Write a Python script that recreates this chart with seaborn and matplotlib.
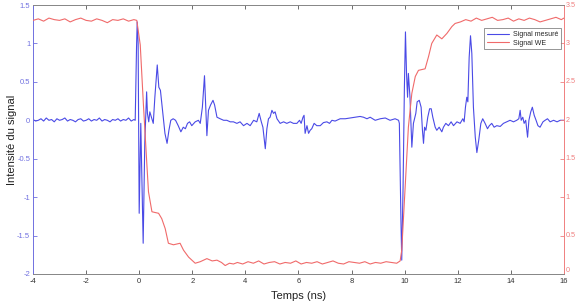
import matplotlib
matplotlib.use("Agg")
import matplotlib.pyplot as plt
import seaborn as sns
from matplotlib.ticker import FuncFormatter, FixedLocator
from matplotlib.lines import Line2D

# ---------------- data ----------------
blue_t = [-4.0, -3.9, -3.8, -3.7, -3.6, -3.5, -3.4, -3.3, -3.2, -3.1, -3.0, -2.9, -2.8, -2.7,
          -2.6, -2.5, -2.4, -2.3, -2.2, -2.1, -2.0, -1.9, -1.8, -1.7, -1.6, -1.5, -1.4, -1.3,
          -1.2, -1.1, -1.0, -0.9, -0.8, -0.7, -0.6, -0.5, -0.4, -0.3, -0.2, -0.15,
          -0.10, -0.075, -0.04, 0.0, 0.06, 0.10, 0.15, 0.21, 0.28, 0.31, 0.36, 0.40, 0.46, 0.53,
          0.59, 0.68, 0.74, 0.80, 0.88, 0.97, 1.05, 1.12, 1.19, 1.28, 1.37, 1.47, 1.57, 1.66,
          1.74, 1.82, 1.90, 1.98, 2.11, 2.23, 2.30, 2.38, 2.46, 2.51, 2.55, 2.61, 2.69, 2.78,
          2.84, 2.93, 3.05, 3.18, 3.30, 3.43, 3.55, 3.68, 3.80, 3.93, 4.06, 4.18, 4.31, 4.43,
          4.52, 4.60, 4.66, 4.75, 4.81, 4.87, 4.93, 5.00, 5.06, 5.12, 5.19, 5.31, 5.44, 5.56,
          5.69, 5.81, 5.94, 6.04, 6.10, 6.17, 6.21, 6.25, 6.32, 6.38, 6.44, 6.50, 6.59, 6.69,
          6.82, 6.94, 7.07, 7.17, 7.26, 7.38, 7.57, 7.76, 7.95, 8.14, 8.32, 8.45, 8.58, 8.70,
          8.89, 9.08, 9.27, 9.45, 9.64, 9.77, 9.80, 9.86, 9.89, 9.94, 9.99, 10.03, 10.07, 10.11,
          10.14, 10.20, 10.27, 10.33, 10.42, 10.47, 10.55, 10.62, 10.67, 10.71, 10.75, 10.80,
          10.87, 10.94, 11.00, 11.06, 11.15, 11.21, 11.30, 11.40, 11.46, 11.55, 11.65, 11.75,
          11.84, 11.97, 12.09, 12.19, 12.24, 12.29, 12.34, 12.38, 12.43, 12.48, 12.53, 12.59,
          12.66, 12.72, 12.79, 12.87, 12.94, 13.03, 13.12, 13.19, 13.28, 13.37, 13.47, 13.60,
          13.72, 13.85, 13.97, 14.10, 14.22, 14.30, 14.35, 14.39, 14.45, 14.50, 14.56, 14.63,
          14.68, 14.75, 14.81, 14.88, 14.95, 15.02, 15.10, 15.21, 15.29, 15.38, 15.48, 15.61,
          15.74, 15.86, 16.0]
blue_v = [0.01, -0.01, 0.00, 0.02, -0.01, 0.03, 0.00, 0.01, -0.02, 0.02, 0.00, 0.01, 0.03, -0.01,
          0.01, 0.00, -0.02, 0.01, 0.02, -0.01, 0.00, 0.02, -0.01, 0.01, 0.00, 0.03, -0.01, 0.01,
          0.00, -0.02, 0.01, 0.00, 0.02, -0.01, 0.01, 0.00, 0.03, -0.01, 0.01, 0.00,
          0.95, 1.28, 1.00, -1.21, -0.04, -0.74, -1.60, -0.30, 0.37, 0.09, -0.02, 0.11, 0.04, -0.04,
          0.30, 0.72, 0.43, 0.39, 0.13, -0.17, -0.30, -0.13, 0.00, 0.02, 0.00, -0.07, -0.15, -0.09,
          -0.11, -0.04, -0.02, -0.07, -0.02, 0.00, -0.04, 0.17, 0.58, 0.13, -0.20, 0.13, 0.20, 0.26,
          0.20, 0.04, 0.02, 0.00, 0.00, -0.02, -0.02, -0.04, -0.02, -0.07, -0.04, -0.07, 0.00, -0.02,
          0.09, -0.02, -0.09, -0.37, -0.11, 0.02, 0.04, 0.13, 0.09, 0.11, 0.02, -0.04, -0.02, -0.04,
          -0.02, -0.04, -0.04, 0.00, -0.04, 0.04, 0.065, -0.17, -0.07, -0.17, -0.13, -0.11, -0.04, -0.07,
          -0.07, -0.03, -0.02, -0.04, 0.00, -0.01, 0.02, 0.02, 0.03, 0.04, 0.05, 0.04, 0.02, 0.04,
          0.00, 0.02, 0.03, 0.00, 0.02, 0.00, -0.04, -1.30, -1.82, -0.87, 0.43, 1.15, 0.61, 0.30,
          0.61, 0.30, -0.35, -0.04, 0.09, 0.24, 0.26, 0.17, -0.13, -0.30, -0.09, -0.13,
          0.04, 0.15, 0.15, 0.04, -0.09, -0.13, -0.09, -0.15, -0.09, -0.04, -0.07, -0.02,
          -0.07, -0.02, -0.04, 0.02, -0.02, 0.17, 0.30, 0.24, 0.82, 1.10, 0.87, 0.17,
          -0.22, -0.42, -0.26, -0.04, 0.02, -0.04, -0.11, -0.07, -0.04, -0.09, -0.07, -0.08,
          -0.04, -0.02, 0.00, -0.02, 0.00, 0.02, 0.13, 0.00, 0.04, -0.04, 0.00, -0.22,
          0.00, 0.11, 0.17, 0.065, 0.00, -0.07, -0.09, -0.02, 0.00, 0.02, -0.02, 0.00,
          -0.02, 0.00, 0.00]

red_t = [-4.0, -3.8, -3.6, -3.4, -3.2, -3.0, -2.8, -2.6, -2.4, -2.2, -2.0, -1.8, -1.6, -1.4,
         -1.2, -1.0, -0.8, -0.6, -0.4, -0.2, -0.09, 0.04, 0.16, 0.29, 0.35, 0.48, 0.60, 0.73,
         0.85, 0.98, 1.10, 1.29, 1.54, 1.67, 1.86, 2.11, 2.30, 2.55, 2.75, 2.93, 3.10, 3.24,
         3.40, 3.55, 3.7, 3.9, 4.1, 4.3, 4.5, 4.7, 4.9, 5.1, 5.3, 5.5, 5.7, 5.9, 6.1, 6.3, 6.5,
         6.7, 6.9, 7.1, 7.3, 7.5, 7.7, 7.9, 8.1, 8.3, 8.5, 8.7, 8.9, 9.1, 9.3, 9.5, 9.7, 9.83,
         9.89, 10.02, 10.14, 10.27, 10.40, 10.52, 10.77, 10.90, 11.02, 11.21, 11.40, 11.59,
         11.78, 11.90, 12.1, 12.3, 12.5, 12.7, 12.9, 13.1, 13.3, 13.5, 13.7, 13.9, 14.1, 14.3,
         14.5, 14.7, 14.9, 15.1, 15.3, 15.5, 15.7, 15.9, 16.0]
red_v = [3.30, 3.32, 3.29, 3.33, 3.31, 3.30, 3.32, 3.28, 3.31, 3.33, 3.30, 3.29, 3.32, 3.30,
         3.27, 3.31, 3.30, 3.32, 3.29, 3.31, 3.30, 2.98, 2.20, 1.42, 1.07, 0.81, 0.80, 0.79,
         0.72, 0.59, 0.40, 0.38, 0.40, 0.31, 0.22, 0.14, 0.16, 0.20, 0.17, 0.18, 0.15, 0.11,
         0.14, 0.13, 0.15, 0.13, 0.16, 0.14, 0.17, 0.13, 0.15, 0.16, 0.13, 0.15, 0.14, 0.17, 0.13,
         0.15, 0.14, 0.16, 0.13, 0.15, 0.17, 0.14, 0.13, 0.16, 0.15, 0.14, 0.16, 0.13, 0.15, 0.14,
         0.16, 0.15, 0.14, 0.17, 0.31, 1.14, 1.91, 2.35, 2.57, 2.65, 2.67, 2.83, 3.00, 3.11, 3.06,
         3.13, 3.22, 3.26, 3.28, 3.31, 3.29, 3.33, 3.30, 3.32, 3.34, 3.30, 3.31, 3.33, 3.29, 3.32,
         3.30, 3.33, 3.31, 3.28, 3.30, 3.32, 3.34, 3.31, 3.33]

x_ticks = [-4, -2, 0, 2, 4, 6, 8, 10, 12, 14, 16]
left_ticks = [-2, -1.5, -1, -0.5, 0, 0.5, 1, 1.5]
right_ticks = [0, 0.5, 1, 1.5, 2, 2.5, 3, 3.5]
series_labels = ["Signal mesuré", "Signal WE"]
x_label = "Temps (ns)"
y_label = "Intensité du signal"

# ---------------- style ----------------
BLUE = "#4a4ae6"
RED = "#f06a6a"
AXBLUE = "#7070e0"
AXRED = "#f08080"
GREY = "#555555"

sns.set_style("white")
plt.rcParams['font.family'] = ['Liberation Sans', 'DejaVu Sans']

fmt = FuncFormatter(lambda v, p: ("%g" % v))

fig = plt.figure(figsize=(5.79, 3.06), dpi=100)
ax = fig.add_axes([0.057, 0.1046, 0.917, 0.879])
sns.lineplot(x=blue_t, y=blue_v, ax=ax, color=BLUE, lw=0.8, estimator=None, sort=False)
ax.set_xlim(-4, 16)
ax.set_ylim(-2, 1.5)
ax.xaxis.set_major_locator(FixedLocator(x_ticks))
ax.yaxis.set_major_locator(FixedLocator(left_ticks))
ax.xaxis.set_major_formatter(fmt)
ax.yaxis.set_major_formatter(fmt)
ax.tick_params(axis='x', direction='in', top=True, bottom=True, length=3, width=0.6,
               color=GREY, labelsize=5.5, labelcolor="#333333", pad=3)
ax.tick_params(axis='y', direction='in', left=True, right=False, length=3, width=0.6,
               color=AXBLUE, labelsize=5.5, labelcolor=AXBLUE, pad=2)
ax.set_xlabel(x_label, fontsize=8, color="#222222")
ax.set_ylabel(y_label, fontsize=8, color="#222222")
ax.xaxis.set_label_coords(0.5, -0.065)
ax.yaxis.set_label_coords(-0.03, 0.5)

ax2 = ax.twinx()
sns.lineplot(x=red_t, y=red_v, ax=ax2, color=RED, lw=0.8, estimator=None, sort=False)
ax2.set_ylim(0, 3.5)
ax2.yaxis.set_major_locator(FixedLocator(right_ticks))
ax2.yaxis.set_major_formatter(fmt)
ax2.tick_params(axis='y', direction='in', right=True, length=3, width=0.6,
                color=AXRED, labelsize=5.2, labelcolor=AXRED, pad=1)
ax2.set_ylabel("")
for lab in ax2.get_yticklabels():
    lab.set_verticalalignment('bottom' if lab.get_text() == '0' else 'center')

for a in (ax, ax2):
    for s in a.spines.values():
        s.set_linewidth(0.7)
    a.spines['top'].set_color("#888888")
    a.spines['bottom'].set_color("#888888")
ax.spines['left'].set_color(AXBLUE)
ax.spines['right'].set_visible(False)
ax2.spines['left'].set_visible(False)
ax2.spines['right'].set_color(AXRED)

handles = [Line2D([], [], color=BLUE, lw=0.8), Line2D([], [], color=RED, lw=0.8)]
leg = ax2.legend(handles, series_labels, loc='upper right', bbox_to_anchor=(0.994, 0.913),
                 fontsize=5, frameon=True, fancybox=False, handlelength=3.2,
                 borderpad=0.4, labelspacing=0.2, handletextpad=0.5, borderaxespad=0)
leg.get_frame().set_edgecolor("#666666")
leg.get_frame().set_linewidth(0.6)

fig.savefig("out.png", dpi=100)
